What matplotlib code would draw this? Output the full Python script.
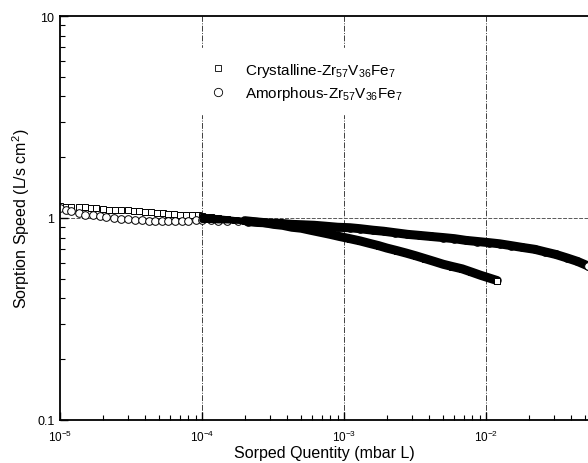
"""Sorption speed vs sorped quantity, crystalline vs amorphous ZrVFe getter."""

import matplotlib
matplotlib.use('Agg')
import matplotlib.pyplot as plt
from matplotlib.ticker import LogLocator, FixedLocator, FixedFormatter, NullFormatter
import numpy as np

# --- data ------------------------------------------------------------------
cry_x = [1.0e-5, 1.1e-5, 1.2e-5, 1.35e-5, 1.5e-5, 1.65e-5, 1.8e-5, 2.0e-5,
         2.2e-5, 2.45e-5, 2.7e-5, 3.0e-5, 3.3e-5, 3.6e-5, 4.0e-5, 4.4e-5,
         4.8e-5, 5.3e-5, 5.8e-5, 6.4e-5, 7.0e-5, 7.7e-5, 8.5e-5, 9.3e-5,
         1.0e-4, 1.15e-4, 1.3e-4, 1.5e-4, 1.7e-4, 2.0e-4, 2.3e-4, 2.7e-4,
         3.2e-4, 3.7e-4, 4.3e-4, 5.0e-4, 5.8e-4, 6.8e-4, 8.0e-4, 9.3e-4,
         1.1e-3, 1.3e-3, 1.5e-3, 1.75e-3, 2.0e-3, 2.35e-3, 2.75e-3, 3.2e-3,
         3.7e-3, 4.3e-3, 5.0e-3, 5.8e-3, 6.8e-3, 7.9e-3, 9.2e-3, 1.05e-2,
         1.2e-2]
cry_y = [1.15, 1.14, 1.14, 1.13, 1.13, 1.12, 1.12, 1.11,
         1.10, 1.10, 1.09, 1.09, 1.08, 1.08, 1.07, 1.07,
         1.06, 1.06, 1.05, 1.05, 1.04, 1.04, 1.03, 1.03,
         1.02, 1.01, 1.00, 0.99, 0.98, 0.97, 0.96, 0.95,
         0.93, 0.92, 0.90, 0.89, 0.87, 0.85, 0.83, 0.81,
         0.79, 0.77, 0.75, 0.73, 0.71, 0.69, 0.67, 0.65,
         0.63, 0.61, 0.59, 0.575, 0.56, 0.54, 0.52, 0.505,
         0.49]

amo_x = [1.0e-5, 1.1e-5, 1.2e-5, 1.35e-5, 1.5e-5, 1.7e-5, 1.9e-5, 2.1e-5,
         2.4e-5, 2.7e-5, 3.0e-5, 3.4e-5, 3.8e-5, 4.2e-5, 4.7e-5, 5.2e-5,
         5.8e-5, 6.5e-5, 7.2e-5, 8.0e-5, 9.0e-5, 1.0e-4, 1.15e-4, 1.3e-4,
         1.5e-4, 1.8e-4, 2.1e-4, 2.5e-4, 3.0e-4, 3.6e-4, 4.3e-4, 5.2e-4,
         6.2e-4, 7.5e-4, 9.0e-4, 1.1e-3, 1.3e-3, 1.6e-3, 1.9e-3, 2.3e-3,
         2.8e-3, 3.4e-3, 4.1e-3, 5.0e-3, 6.0e-3, 7.2e-3, 8.7e-3, 1.05e-2,
         1.25e-2, 1.5e-2, 1.8e-2, 2.2e-2, 2.6e-2, 3.1e-2, 3.7e-2, 4.4e-2,
         5.2e-2]
amo_y = [1.12, 1.10, 1.08, 1.06, 1.04, 1.03, 1.02, 1.01,
         1.00, 0.99, 0.985, 0.98, 0.975, 0.97, 0.97, 0.97,
         0.97, 0.97, 0.97, 0.97, 0.975, 0.975, 0.975, 0.97,
         0.97, 0.965, 0.96, 0.95, 0.945, 0.94, 0.93, 0.925,
         0.92, 0.91, 0.90, 0.895, 0.885, 0.87, 0.86, 0.845,
         0.83, 0.82, 0.81, 0.80, 0.79, 0.775, 0.765, 0.755,
         0.745, 0.73, 0.715, 0.70, 0.68, 0.66, 0.635, 0.61,
         0.58]

labels = ['Crystalline-Zr$_{57}$V$_{36}$Fe$_{7}$',
          'Amorphous-Zr$_{57}$V$_{36}$Fe$_{7}$']
y_ticks = [0.1, 1, 10]
y_tick_labels = ['0.1', '1', '10']
x_ticks = [1e-5, 1e-4, 1e-3, 1e-2]
x_tick_labels = ['10$^{-5}$', '10$^{-4}$', '10$^{-3}$', '10$^{-2}$']

plt.rcParams['font.family'] = ['Liberation Sans', 'DejaVu Sans']
plt.rcParams['mathtext.default'] = 'regular'

fig = plt.figure(figsize=(5.88, 4.64), dpi=100)
ax = fig.add_axes([60 / 588, 43 / 464, 528 / 588, 404 / 464])

# dense part of each run reads as a solid black band
for xs, ys, mk, ms in [(cry_x, cry_y, 's', 5), (amo_x, amo_y, 'o', 5.5)]:
    xs = np.array(xs)
    ys = np.array(ys)
    ax.plot(xs, ys, linestyle='none', marker=mk, ms=ms, mfc='white',
            mec='black', mew=0.7, zorder=2)
    mid = (xs >= 1.0e-4) & (xs <= 2.5e-4)
    ax.plot(xs[mid], ys[mid], color='black', lw=4,
            solid_capstyle='round', zorder=3)
    dense = xs >= 2.0e-4
    ax.plot(xs[dense], ys[dense], color='black', lw=6.5,
            solid_capstyle='round', zorder=3)
    ax.plot(xs[-1:], ys[-1:], linestyle='none', marker=mk, ms=ms,
            mfc='white', mec='black', mew=0.7, zorder=4)

# legend handles
h1, = ax.plot([], [], linestyle='none', marker='s', ms=5, mfc='white',
              mec='black', mew=0.6)
h2, = ax.plot([], [], linestyle='none', marker='o', ms=6, mfc='white',
              mec='black', mew=0.6)
leg = ax.legend([h1, h2], labels, loc='upper left',
                bbox_to_anchor=(0.258, 0.92), frameon=True, fancybox=False,
                facecolor='white', edgecolor='white', framealpha=1,
                fontsize=11, handlelength=1.2, handletextpad=1.2,
                labelspacing=0.35, borderaxespad=0, borderpad=0.8)
leg.set_zorder(5)

ax.set_xscale('log')
ax.set_yscale('log')
ax.set_xlim(1e-5, 10 ** (-5 + 528 / 142))
ax.set_ylim(0.1, 10)

ax.xaxis.set_major_locator(FixedLocator(x_ticks))
ax.xaxis.set_major_formatter(FixedFormatter(x_tick_labels))
ax.xaxis.set_minor_locator(LogLocator(base=10, subs=np.arange(2, 10)))
ax.xaxis.set_minor_formatter(NullFormatter())
ax.yaxis.set_major_locator(FixedLocator(y_ticks))
ax.yaxis.set_major_formatter(FixedFormatter(y_tick_labels))
ax.yaxis.set_minor_locator(LogLocator(base=10, subs=np.arange(2, 10)))
ax.yaxis.set_minor_formatter(NullFormatter())

ax.tick_params(which='both', direction='in', top=False, right=False)
ax.tick_params(which='major', length=6, width=1)
ax.tick_params(which='minor', length=3.5, width=0.8)
ax.tick_params(axis='x', which='major', labelsize=8.5, pad=6)
ax.tick_params(axis='y', which='major', labelsize=9, pad=4)

for side in ['left', 'bottom', 'top']:
    ax.spines[side].set_linewidth(1.3)
ax.spines['right'].set_visible(False)

# grid: decade verticals and the line at 1
for xv in x_ticks[1:]:
    ax.axvline(xv, color='0.25', lw=0.7, linestyle=(0, (6, 1.5, 1, 1.5)),
               zorder=1)
ax.axhline(1, color='0.35', lw=0.7, linestyle=(0, (4, 1.5)), zorder=1)

ax.set_xlabel('Sorped Quentity (mbar L)', fontsize=11.5, labelpad=1)
ax.set_ylabel('Sorption Speed (L/s cm$^2$)', fontsize=11.5, labelpad=3.5)

plt.savefig('out.png', dpi=100)
plt.close()
